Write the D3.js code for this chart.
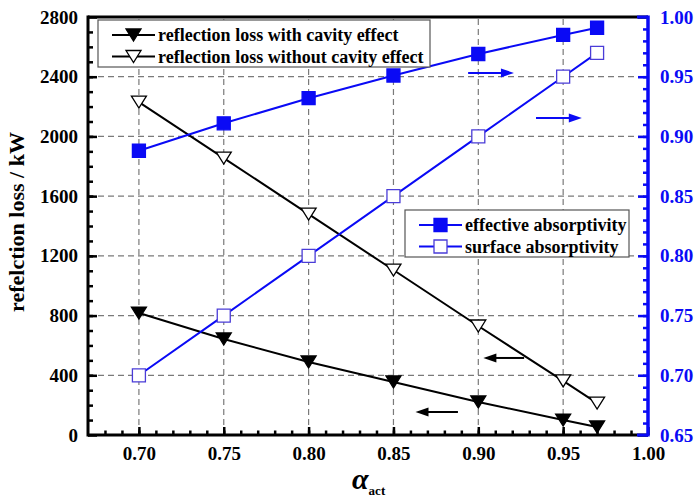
<!DOCTYPE html>
<html>
<head>
<meta charset="utf-8">
<script src="https://cdn.jsdelivr.net/npm/d3@7"></script>
<style>
  html, body { margin: 0; padding: 0; background: #fff; }
  svg text { font-family: "Liberation Serif", "Times New Roman", serif; font-weight: bold; }
</style>
</head>
<body>
<svg id="chart" width="696" height="499"></svg>
<script>
// absorptivity values on the horizontal axis
const alphaAct = [0.70, 0.75, 0.80, 0.85, 0.90, 0.95, 0.97];

// reflection loss (kW), left axis
const lossWithCavity    = [817, 643, 489, 355, 221, 100, 54];
const lossWithoutCavity = [2230, 1855, 1480, 1105, 730, 362, 214];

// absorptivity, right axis
const effectiveAbsorptivity = [0.888, 0.911, 0.932, 0.951, 0.969, 0.985, 0.991];
const surfaceAbsorptivity   = [0.70, 0.75, 0.80, 0.85, 0.90, 0.95, 0.97];

// tick values
const xTicks  = [0.70, 0.75, 0.80, 0.85, 0.90, 0.95, 1.00];
const yTicks  = [0, 400, 800, 1200, 1600, 2000, 2400, 2800];
const y2Ticks = [0.65, 0.70, 0.75, 0.80, 0.85, 0.90, 0.95, 1.00];

// arrows telling which axis each pair of curves belongs to: [x0, x1, value, axis]
const axisArrows = [
  { from: 0.894, to: 0.921, v: 2425, side: "right" },
  { from: 0.934, to: 0.961, v: 2123, side: "right" },
  { from: 0.927, to: 0.903, v: 516,  side: "left"  },
  { from: 0.888, to: 0.863, v: 154,  side: "left"  }
];

const BLUE = "#0a0af5";
const svg = d3.select("#chart");
const m = { left: 88, right: 648, top: 17, bottom: 435 };

const x  = d3.scaleLinear().domain([0.67, 1.00]).range([m.left, m.right]);
const y  = d3.scaleLinear().domain([0, 2800]).range([m.bottom, m.top]);
const y2 = d3.scaleLinear().domain([0.65, 1.00]).range([m.bottom, m.top]);

// dashed grid
const grid = svg.append("g").attr("stroke", "#7a7a7a").attr("stroke-width", 1.2)
  .attr("stroke-dasharray", "6,4");
grid.selectAll("line.v").data(xTicks.filter(t => t < 0.999)).join("line")
  .attr("x1", d => x(d)).attr("x2", d => x(d)).attr("y1", m.bottom).attr("y2", m.top);
grid.selectAll("line.h").data(yTicks.filter(t => t > 0 && t < 2800)).join("line")
  .attr("x1", m.left).attr("x2", m.right).attr("y1", d => y(d)).attr("y2", d => y(d));

// axes helper
function styleAxis(g, color) {
  g.select(".domain").remove();
  g.selectAll("line").attr("stroke", color).attr("stroke-width", 2.5);
  g.selectAll("text").attr("fill", color).style("font-size", "19px");
}

const range = (a, b, s) => d3.range(Math.round(a / s), Math.round(b / s) + 1).map(i => +(i * s).toFixed(4));

// bottom axis
svg.append("g").attr("transform", `translate(0,${m.bottom})`)
  .call(d3.axisBottom(x).tickValues(range(0.68, 0.99, 0.01)).tickSize(-4.5).tickFormat(""))
  .call(g => styleAxis(g, "#000"));
svg.append("g").attr("transform", `translate(0,${m.bottom})`)
  .call(d3.axisBottom(x).tickValues(xTicks).tickSize(-8).tickPadding(12).tickFormat(d3.format(".2f")))
  .call(g => styleAxis(g, "#000"));

// left axis
svg.append("g").attr("transform", `translate(${m.left},0)`)
  .call(d3.axisLeft(y).tickValues(d3.range(100, 2800, 100)).tickSize(-5).tickFormat(""))
  .call(g => styleAxis(g, "#000"));
svg.append("g").attr("transform", `translate(${m.left},0)`)
  .call(d3.axisLeft(y).tickValues(yTicks).tickSize(-9).tickPadding(10).tickFormat(d3.format("d")))
  .call(g => styleAxis(g, "#000"));

// right axis
svg.append("g").attr("transform", `translate(${m.right},0)`)
  .call(d3.axisRight(y2).tickValues(range(0.66, 0.99, 0.01)).tickSize(-5).tickFormat(""))
  .call(g => styleAxis(g, BLUE));
svg.append("g").attr("transform", `translate(${m.right},0)`)
  .call(d3.axisRight(y2).tickValues(y2Ticks).tickSize(-10).tickPadding(12).tickFormat(d3.format(".2f")))
  .call(g => styleAxis(g, BLUE));

// frame
svg.append("line").attr("x1", m.left).attr("x2", m.right).attr("y1", m.top).attr("y2", m.top)
  .attr("stroke", "#000").attr("stroke-width", 3);
svg.append("line").attr("x1", m.left).attr("x2", m.right).attr("y1", m.bottom).attr("y2", m.bottom)
  .attr("stroke", "#000").attr("stroke-width", 3);
svg.append("line").attr("x1", m.left).attr("x2", m.left).attr("y1", m.top - 1.5).attr("y2", m.bottom + 1.5)
  .attr("stroke", "#000").attr("stroke-width", 3);
svg.append("line").attr("x1", m.right).attr("x2", m.right).attr("y1", m.top - 1.5).attr("y2", m.bottom + 1.5)
  .attr("stroke", BLUE).attr("stroke-width", 3.5);
// blue end ticks at the corners of the right axis
[0.65, 1.00].forEach(v => svg.append("line")
  .attr("x1", m.right - 11).attr("x2", m.right).attr("y1", y2(v)).attr("y2", y2(v))
  .attr("stroke", BLUE).attr("stroke-width", 3));

// markers
const triDown = (cx, cy, w = 15, h = 12) =>
  `M${cx - w / 2},${cy - h / 2}L${cx + w / 2},${cy - h / 2}L${cx},${cy + h / 2}Z`;
const square = (cx, cy, s = 13) => `M${cx - s / 2},${cy - s / 2}h${s}v${s}h${-s}Z`;

function drawSeries(values, yScale, color, shape, fill, stroke) {
  const pts = alphaAct.map((a, i) => [x(a), yScale(values[i])]);
  svg.append("path").attr("d", d3.line()(pts)).attr("fill", "none")
    .attr("stroke", color).attr("stroke-width", 2);
  svg.append("g").selectAll("path").data(pts).join("path")
    .attr("d", d => shape(d[0], d[1])).attr("fill", fill)
    .attr("stroke", stroke).attr("stroke-width", 1.3);
}

drawSeries(lossWithoutCavity, y, "#000", triDown, "#fff", "#000");
drawSeries(lossWithCavity, y, "#000", triDown, "#000", "#000");
drawSeries(surfaceAbsorptivity, y2, BLUE, square, "#fff", "#4a3cd8");
drawSeries(effectiveAbsorptivity, y2, BLUE, square, BLUE, BLUE);

// axis arrows
axisArrows.forEach(a => {
  const color = a.side === "right" ? BLUE : "#000";
  const x0 = x(a.from), x1 = x(a.to), yy = y(a.v);
  const dir = Math.sign(x1 - x0);
  svg.append("line").attr("x1", x0).attr("x2", x1 - dir * 10).attr("y1", yy).attr("y2", yy)
    .attr("stroke", color).attr("stroke-width", 2);
  svg.append("path")
    .attr("d", `M${x1},${yy}L${x1 - dir * 13},${yy - 4.5}L${x1 - dir * 13},${yy + 4.5}Z`)
    .attr("fill", color);
});

// legends
function legend(x0, y0, w, h, rows) {
  const g = svg.append("g");
  g.append("rect").attr("x", x0).attr("y", y0).attr("width", w).attr("height", h)
    .attr("fill", "#fff").attr("stroke", "#555").attr("stroke-width", 1.2);
  rows.forEach((r, i) => {
    const cy = y0 + 15 + i * 21.5;
    g.append("line").attr("x1", x0 + 14).attr("x2", x0 + 57).attr("y1", cy).attr("y2", cy)
      .attr("stroke", r.color).attr("stroke-width", 2);
    g.append("path").attr("d", r.shape(x0 + 35.5, cy)).attr("fill", r.fill)
      .attr("stroke", r.stroke).attr("stroke-width", 1.3);
    g.append("text").attr("x", x0 + 60).attr("y", cy + 6).style("font-size", "18px")
      .attr("fill", "#000").text(r.label);
  });
}
legend(98, 20, 332, 47, [
  { label: "reflection loss with cavity effect", color: "#000", shape: triDown, fill: "#000", stroke: "#000" },
  { label: "reflection loss without cavity effect", color: "#000", shape: triDown, fill: "#fff", stroke: "#000" }
]);
legend(405, 210, 224, 47, [
  { label: "effective absorptivity", color: BLUE, shape: square, fill: BLUE, stroke: BLUE },
  { label: "surface absorptivity", color: BLUE, shape: square, fill: "#fff", stroke: "#4a3cd8" }
]);

// axis titles
svg.append("text").attr("transform", "translate(24,222) rotate(-90)")
  .attr("text-anchor", "middle").style("font-size", "22px").text("refelction loss / kW");
const xt = svg.append("text").attr("x", 352).attr("y", 489);
xt.append("tspan").style("font-size", "30px").style("font-style", "italic").text("α");
xt.append("tspan").attr("dy", 6).style("font-size", "13px").text("act");
</script>
</body>
</html>
